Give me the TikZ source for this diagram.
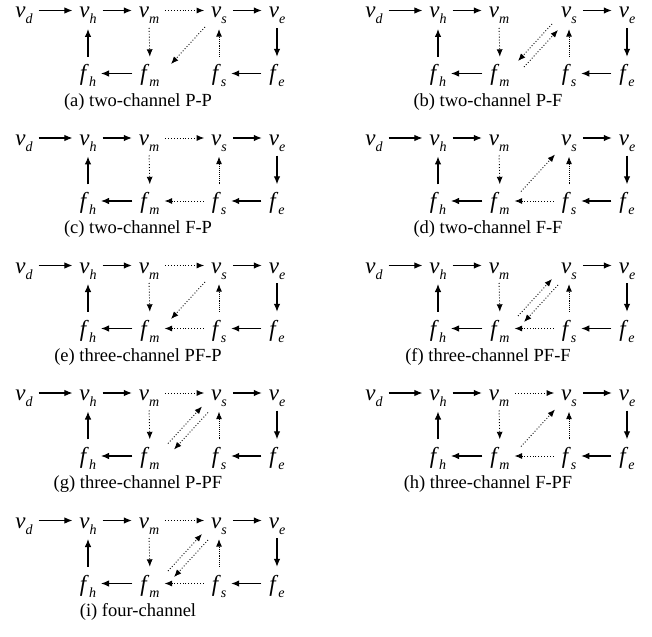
\documentclass[tikz,border=0pt]{standalone}
\usepackage{fontspec}
\setmainfont{Liberation Serif}
\usetikzlibrary{arrows.meta}
\newcommand\nv[2]{\textit{#1}\raisebox{-6pt}{\fontsize{14}{14}\selectfont\textit{#2}}}
\tikzset{
 nd/.style={anchor=base, inner sep=0pt, outer sep=0pt, font=\fontsize{23}{23}\selectfont},
 captxt/.style={inner sep=0pt, font=\fontsize{18.5}{18.5}\selectfont},
 sarr/.style={-{Latex[length=8pt,width=6.5pt]}, line width=1.1pt},
 darr/.style={-{Latex[length=7.5pt,width=6pt]}, line width=0.9pt, dotted},
 ddarr/.style={-{Latex[length=7.5pt,width=6pt]}, line width=0.9pt, densely dotted},
 hz/.style={shorten <=6pt, shorten >=7pt},
 hzf/.style={shorten <=8pt, shorten >=5pt},
 upa/.style={shorten <=8pt, shorten >=5pt},
 dna/.style={shorten <=4pt, shorten >=8pt},
}
\newcommand\drawpanel[7]{%
\begin{scope}[shift={(#2pt,-#3pt)}]
\node[nd] (#1vd) at (24pt,-18pt) {\nv{v}{d}};
\node[nd] (#1vh) at (88pt,-18pt) {\nv{v}{h}};
\node[nd] (#1vm) at (149pt,-18pt) {\nv{v}{m}};
\node[nd] (#1vs) at (219pt,-18pt) {\nv{v}{s}};
\node[nd] (#1ve) at (277pt,-18pt) {\nv{v}{e}};
\node[nd] (#1fh) at (88pt,-81pt) {\nv{f}{h}};
\node[nd] (#1fm) at (150pt,-81pt) {\nv{f}{m}};
\node[nd] (#1fs) at (219pt,-81pt) {\nv{f}{s}};
\node[nd] (#1fe) at (277pt,-81pt) {\nv{f}{e}};
\node[captxt] (#1cap) at (138pt,-102pt) {#4};
\draw[sarr,hz] ([yshift=7.5pt]#1vd.base east) -- ([yshift=7.5pt]#1vh.base west);
\draw[sarr,hz] ([yshift=7.5pt]#1vh.base east) -- ([yshift=7.5pt]#1vm.base west);
\draw[sarr,hz] ([yshift=7.5pt]#1vs.base east) -- ([yshift=7.5pt]#1ve.base west);
\draw[sarr,hzf] ([yshift=7.5pt]#1fm.base west) -- ([yshift=7.5pt]#1fh.base east);
\draw[sarr,hzf] ([yshift=7.5pt]#1fe.base west) -- ([yshift=7.5pt]#1fs.base east);
\draw[sarr,upa] (#1fh.north) -- (#1vh.south);
\draw[sarr,dna] (#1ve.south) -- (#1fe.north);
\draw[darr,dna] (#1vm.south) -- (#1fm.north);
\draw[ddarr,upa] (#1fs.north) -- (#1vs.south);
\ifnum#5=1 \draw[darr,hz] ([yshift=7.5pt]#1vm.base east) -- ([yshift=7.5pt]#1vs.base west);\fi
\ifnum#6=1 \draw[darr,hzf] ([yshift=7.5pt]#1fs.base west) -- ([yshift=7.5pt]#1fm.base east);\fi
\ifcase#7\relax
\or \draw[darr] ([shift={(-14pt,-9pt)}]#1vs.base) -- ([shift={(21pt,17pt)}]#1fm.base);
\or \draw[darr] ([shift={(21pt,17pt)}]#1fm.base) -- ([shift={(-14pt,-9pt)}]#1vs.base);
\or \draw[darr] ([shift={(18pt,20pt)}]#1fm.base) -- ([shift={(-17pt,-6pt)}]#1vs.base);
    \draw[darr] ([shift={(-11pt,-12pt)}]#1vs.base) -- ([shift={(24pt,14pt)}]#1fm.base);
\or \draw[darr] ([shift={(-17pt,-6pt)}]#1vs.base) -- ([shift={(18pt,20pt)}]#1fm.base);
    \draw[darr] ([shift={(24pt,14pt)}]#1fm.base) -- ([shift={(-11pt,-12pt)}]#1vs.base);
\fi
\end{scope}}
\begin{document}
\begin{tikzpicture}
\useasboundingbox (0,0) rectangle (652pt,-636pt);
\drawpanel{a}{0}{0}{(a) two-channel P-P}{1}{0}{1}
\drawpanel{b}{350}{0}{(b) two-channel P-F}{0}{0}{4}
\drawpanel{c}{0}{127.5}{(c) two-channel F-P}{1}{1}{0}
\drawpanel{d}{350}{127.5}{(d) two-channel F-F}{0}{1}{2}
\drawpanel{e}{0}{255}{(e) three-channel PF-P}{1}{1}{1}
\drawpanel{f}{350}{255}{(f) three-channel PF-F}{0}{1}{3}
\drawpanel{g}{0}{382.5}{(g) three-channel P-PF}{1}{0}{3}
\drawpanel{h}{350}{382.5}{(h) three-channel F-PF}{1}{1}{2}
\drawpanel{i}{0}{510}{(i) four-channel}{1}{1}{3}
\end{tikzpicture}
\end{document}
